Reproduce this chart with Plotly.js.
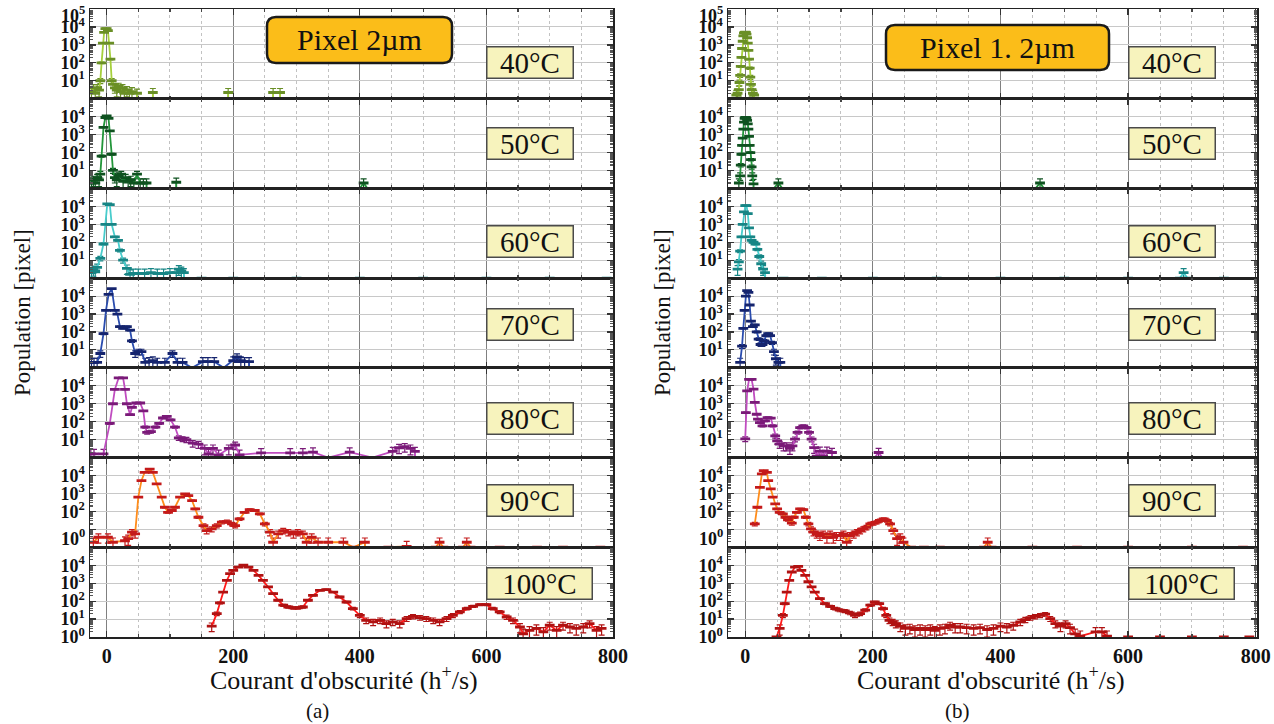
<!DOCTYPE html>
<html><head><meta charset="utf-8">
<script src="https://cdn.plot.ly/plotly-3.0.1.min.js"></script>
<style>html,body{margin:0;padding:0;background:#fff;overflow:hidden}</style>
</head><body><div id="chart" style="width:1274px;height:724px"></div>
<script>
// ---------- labels ----------
const temps = ['40°C','50°C','60°C','70°C','80°C','90°C','100°C'];
const panelTitles = ['Pixel 2µm','Pixel 1. 2µm'];
const captions = ['(a)','(b)'];
const xTitle = "Courant d'obscurité (h<sup>+</sup>/s)";
const yTitle = 'Population [pixel]';
const xTickVals = [0,200,400,600,800];
const xTickText = ['0','200','400','600','800'];

// ---------- data: panel (a) Pixel 2µm  (0 = empty bin) ----------
const a40x = [-24,-21,-18,-15,-12,-10,-8,-6,-4,-2,0,2,4,6,8,10,13,16,19,22,25,28,32,36,40,48,55,73,80,100,110,140,150,192,200,230,240,263,274,285,330,340,400,410,480,490,560,570,650,660,720,730,790];
const a40y = [2.5,4,2,4,3,10,100,1260,5000,8000,8000,6300,1260,160,10,6.3,4,3,5,2.5,4,2,3,2,2.5,2,0,2.2,0,1,0,1,0,2.2,0,1,0,2.2,2.2,0,1,0,1,0,1,0,1,0,1,0,1,0,1];
const a50x = [-24,-21,-18,-15,-12,-10,-8,-5,-2,0,3,5,8,10,13,16,19,23,26,30,34,38,43,48,53,58,63,70,90,100,110,120,150,160,200,210,260,270,320,330,400,406,412,420,460,470,530,540,600,610,680,690,760];
const a50y = [2,3,2,4,3,6.3,63,2500,9000,11000,8000,1600,80,10,4,3,5,6.3,2.5,4,2.5,3,2,6.3,2,2,2,0,1,0,2.2,0,1,0,1,0,1,0,1,0,1,2,1,0,1,0,1,0,1,0,1,0,1];
const a60x = [-24,-21,-18,-15,-10,-5,-2,1,5,8,13,18,21,26,32,37,42,50,60,70,80,90,100,110,114,118,122,130,150,160,200,210,300,310,400,410,500,510,600,610,700,710,790];
const a60y = [2,3,2.5,4,12.6,80,1000,14000,12600,1000,200,126,35,10,3.5,1.6,1.8,1.8,1.8,2,1.8,1.8,2,2,3.2,2.5,2,0,1,0,1,0,1,0,1,0,1,0,1,0,1,0,1];
const a70x = [-24,-20,-15,-10,-5,-1,3,8,13,17,21,26,32,37,40,45,50,55,61,67,73,80,92,104,112,120,135,152,160,170,185,200,206,212,218,225,232,260,270,320,330,400,410,500,510,600,610,700,710,780];
const a70y = [2,2,2,6.3,80,1600,12600,26000,1600,1000,200,160,200,126,32,6.3,8,8,2,2.2,2.5,2,2,6.3,2,2,1,2.2,2.2,2.2,1,2.5,4,2.5,2.2,2.2,0,1,0,1,0,1,0,1,0,1,0,1,0,1];
const a80x = [-25,-20,-5,5,10,13,19,26,29,32,37,40,47,53,58,61,64,70,77,83,89,95,101,108,114,120,126,136,145,155,161,168,177,193,203,210,244,290,310,326,350,384,420,452,462,471,480,487,495,520,530,600,610,700,710,780];
const a80y = [1.6,1.6,1.6,80,1000,6300,28000,28000,6300,1000,250,630,1100,1100,400,50,25,28,50,80,160,200,126,50,12.6,11,10,6.3,5.6,3.2,1.6,3.2,1.4,3.2,5,1.4,1.8,1.8,1.8,2,1,2,1,2.2,3.5,4,3.2,2.2,0,1,0,1,0,1,0,1];
const a90x = [-21,-13,2,10,29,34,40,45,50,55,60,68,73,79,87,92,97,103,108,116,124,129,135,140,145,153,158,166,174,182,190,198,203,210,218,226,234,242,250,258,263,271,279,287,295,302,310,316,324,334,350,374,390,408,420,445,474,490,520,526,532,545,563,569,575,590,621,630,680,690,721,730,780];
const a90y = [1.9,3.6,3.6,1.9,2.3,3,6.9,5.6,620,5200,15000,23000,15000,3400,620,170,89,112,170,620,950,760,400,138,47,16,8.5,10.5,16,25,27,20,16,38,89,126,112,72,20,6.9,1.9,5.6,8.5,6.9,5.6,6.9,5.6,1.9,3.6,1.9,1.9,1.9,1,1.9,0,1,1.1,0,1,1.9,1,0,1,1.9,1,0,1,0,1,0,1,0,1];
const a100x = [166,174,179,184,190,195,200,208,216,224,232,240,247,255,263,271,279,287,295,302,310,318,326,337,347,358,368,379,389,400,410,421,432,442,452,463,474,484,495,505,516,526,537,547,558,569,579,590,600,610,621,632,642,653,658,668,679,690,700,711,721,732,742,753,763,774,782];
const a100y = [4,20,79,320,1450,3400,5200,7900,10000,7900,5200,2750,1450,620,260,112,59,47,42,42,47,112,210,400,440,320,170,89,38,16,8.5,6.9,8.5,5.6,6.9,5.6,10.5,14,12,10.5,8.5,6.9,10.5,16,25,38,51,63,63,38,25,13,8.5,3.6,1.5,2.3,3,1.9,4.5,2.3,4.5,3.6,3,3.6,5.6,2.3,3];

// ---------- data: panel (b) Pixel 1.2µm ----------
const b40x = [-14,-12,-10,-9,-8,-7,-6,-5,-4,-3,-2,-1,0,1,2,3,4,5,6,7,8,9,10,12,14,20,40,50,80,90,120,130,200,210,250,260,300,310,350,360,400,410,450,460,500,510,600,610,700,710,780];
const b40y = [1.6,2,3.2,8,20,63,200,630,1600,3200,4500,5000,5200,5000,4000,2500,1260,500,160,50,16,6.3,3.2,2,1.6,0,1,0,1,0,1,0,1,0,1,0,1,0,1,0,1,0,1,0,1,0,1,0,1,0,1];
const b50x = [-10,-8,-7,-6,-5,-4,-3,-2,-1,0,1,2,3,4,5,6,7,8,9,10,11,13,20,45,52,58,70,100,110,200,210,300,310,400,410,455,462,468,480,600,610,700,710,780];
const b50y = [2,5,20,80,250,630,2000,5000,8000,9000,9000,8000,6300,4000,2000,800,250,100,40,16,5,1.8,0,1,2,1,0,1,0,1,0,1,0,1,0,1,2,1,0,1,0,1,0,1];
const b60x = [-12,-10,-8,-6,-4,-2,0,2,4,6,8,10,13,16,19,22,25,28,31,40,60,70,120,130,200,210,300,310,400,410,500,510,600,610,681,687,693,705,750];
const b60y = [3.2,8,32,200,1000,5000,11000,11000,4000,630,200,126,100,80,40,16,6.3,3.2,2,0,1,0,1,0,1,0,1,0,1,0,1,0,1,0,1,2,1,0,1];
const b70x = [-8,-5,-3,-1,1,3,5,7,9,12,15,18,21,24,27,30,33,36,39,42,45,48,52,55,60,80,90,150,160,250,260,350,360,450,460,550,560,650,660,750];
const b70y = [2,16,160,1600,10000,20000,16000,3200,400,200,250,100,40,20,20,32,63,80,63,25,8,3.2,2,2,0,1,0,1,0,1,0,1,0,1,0,1,0,1,0,1];
const b80x = [0,1,3,6,10,13,15,18,20,23,27,31,35,40,43,47,50,54,60,65,70,74,78,82,86,91,96,100,104,108,112,117,122,128,136,145,160,170,203,209,215,225,260,270,350,360,450,460,550,560,650,660,750];
const b80y = [11,320,5200,23000,23000,6500,1200,260,138,89,59,112,170,158,59,16,8.5,5.6,4.5,4.5,3.3,4.5,10.7,25,47,59,47,25,10.7,3.6,1.2,2.3,1.2,2.3,1.9,0,1,0,1,1.9,1,0,1,0,1,0,1,0,1,0,1,0,1];
const b90x = [15,19,23,26,29,34,36,40,43,47,50,54,59,63,67,73,76,81,86,91,95,99,103,107,112,117,122,128,133,138,143,149,154,159,164,170,175,180,185,190,196,201,206,211,217,222,227,232,238,243,248,260,280,305,320,374,380,386,400,450,460,520,530,600,610,700,710,780];
const b90y = [20,170,2200,12300,19000,15000,5200,1800,620,260,138,89,72,47,34,22,47,89,138,126,47,20,10.5,6.9,5.6,4.5,5.6,3.6,5.6,3.6,4.5,4.5,5.6,1.9,4.5,5.6,6.9,8.5,10.5,13,20,22,25,31,38,31,20,8.5,3,3.6,1.9,1,1,1,0,1,1.9,1,0,1,0,1,0,1,0,1,0,1];
const b100x = [49,54,59,62,65,69,73,78,83,88,94,99,104,109,117,125,133,141,148,156,164,172,180,188,196,203,210,216,221,226,231,236,243,251,258,266,274,282,290,297,305,313,321,329,337,347,358,368,379,389,400,410,420,431,439,447,454,462,470,478,486,494,502,509,517,525,549,559,567,580,600,610,650,660,700,710,750,760,790];
const b100y = [1,3,16,72,320,1450,4200,7900,8700,5200,2750,1200,620,320,138,72,51,38,31,28,22,16,20,31,59,89,72,38,16,8.5,6.9,5.6,4,3,3.3,2.6,3,2.6,3,2.3,3,3.3,4.5,3.6,3.6,3.3,3,3.3,2.6,3,4,3.6,4.5,6.9,9.3,12,14,16,18.6,10.5,5.6,4,5.6,3.3,1.5,1.1,1.9,1.9,1.1,0,1,0,1,0,1,0,1,0,1];

const seriesX = [a40x,a50x,a60x,a70x,a80x,a90x,a100x,b40x,b50x,b60x,b70x,b80x,b90x,b100x];
const seriesY = [a40y,a50y,a60y,a70y,a80y,a90y,a100y,b40y,b50y,b60y,b70y,b80y,b90y,b100y];

// ---------- styles ----------
const lineColors   = ['#a6d03c','#22963a','#48cccc','#2a4cae','#c04cc0','#ff8c1a','#ff1a1a'];
const markerColors = ['#6a8f26','#0f5220','#178585','#15246e','#7a1a78','#c41a1a','#b01212'];

const W = 1274, H = 724;
const top0 = 9, bot0 = 637, rowH = (bot0 - top0) / 7;
const panels = [
  {x0: 90,  x1: 613,  range: [-26.3, 800]},
  {x0: 728, x1: 1257, range: [-27, 802]}
];
const serif = 'Liberation Serif';
const sup = n => '10<sup>' + n + '</sup>';

const minorVals = [];
for (let d = 0; d < 5; d++) for (let m = 2; m <= 9; m++) minorVals.push(m * Math.pow(10, d));

const layout = {
  width: W, height: H,
  margin: {l: 0, r: 0, t: 0, b: 0},
  paper_bgcolor: '#ffffff', plot_bgcolor: '#ffffff',
  showlegend: false,
  annotations: [], shapes: []
};
const traces = [];
const tickFontY = {family: serif, size: 18, color: '#111', weight: 'bold'};

for (let p = 0; p < 2; p++) {
  const P = panels[p];
  for (let r = 0; r < 7; r++) {
    const k = p * 7 + r + 1;
    const sfx = k === 1 ? '' : String(k);
    const top = top0 + r * rowH, bot = top + rowH;
    let tv, tt;
    if (r === 0) { tv = [10,100,1e3,1e4,1e5]; tt = [sup(1),sup(2),sup(3),sup(4),'']; }
    else if (r === 6) { tv = [1,10,100,1e3,1e4]; tt = [sup(0),sup(1),sup(2),sup(3),sup(4)]; }
    else if (r === 5) { tv = [10,100,1e3,1e4]; tt = ['',sup(2),sup(3),sup(4)]; }
    else { tv = [10,100,1e3,1e4]; tt = [sup(1),sup(2),sup(3),sup(4)]; }

    layout['xaxis' + sfx] = {
      domain: [P.x0 / W, P.x1 / W], range: P.range, anchor: 'y' + sfx,
      showline: true, linecolor: '#222', linewidth: 1.5, mirror: 'allticks',
      ticks: 'inside', ticklen: 6, tickwidth: 1.2, tickcolor: '#333',
      tickmode: 'array', tickvals: xTickVals, ticktext: xTickText,
      showticklabels: r === 6, ticklabeloverflow: 'allow',
      tickfont: {family: serif, size: 20, color: '#111', weight: 'bold'},
      showgrid: true, gridcolor: '#808080', gridwidth: 1,
      minor: {tickmode: 'linear', tick0: 0, dtick: 50, ticks: 'inside', ticklen: 3,
              tickcolor: '#444', showgrid: true, gridcolor: '#c2c2c2', griddash: 'dot', gridwidth: 1},
      zeroline: false, fixedrange: true
    };
    layout['yaxis' + sfx] = {
      domain: [1 - bot / H, 1 - top / H], type: 'log', range: [-0.003, 5.003], anchor: 'x' + sfx,
      showline: true, linecolor: '#222', linewidth: 1.5, mirror: 'allticks',
      ticks: 'inside', ticklen: 6, tickwidth: 1.2, tickcolor: '#333',
      tickmode: 'array', tickvals: tv, ticktext: tt, ticklabeloverflow: 'allow',
      tickfont: tickFontY,
      showgrid: true, gridcolor: '#c8c8c8', gridwidth: 1,
      minor: {tickmode: 'array', tickvals: minorVals, ticks: 'inside', ticklen: 3, tickcolor: '#555', showgrid: false},
      zeroline: false, fixedrange: true
    };

    const ys = seriesY[k - 1];
    traces.push({
      type: 'scatter', mode: 'lines+markers',
      x: seriesX[k - 1], y: ys,
      xaxis: 'x' + sfx, yaxis: 'y' + sfx,
      line: {color: lineColors[r], width: 1.8},
      marker: {symbol: 'line-ew', size: 7, color: markerColors[r], line: {width: 2.8, color: markerColors[r]}},
      error_y: {type: 'data', symmetric: true, array: ys.map(v => v > 1 ? Math.sqrt(v) : 0),
                visible: true, color: markerColors[r], thickness: 1.2, width: 3},
      cliponaxis: true, hoverinfo: 'skip'
    });

    // temperature label box
    const wide = temps[r].length > 4;
    const boxCx = p === 0 ? (wide ? 539 : 529.5) : (wide ? 1181.5 : 1171.5);
    const boxCy = [62, 144, 241, 324, 418, 500, 583][r];
    layout.annotations.push({
      xref: 'paper', yref: 'paper', x: boxCx / W, y: 1 - boxCy / H,
      xanchor: 'center', yanchor: 'middle',
      text: temps[r], showarrow: false,
      width: wide ? 104 : 85, height: 30,
      bgcolor: '#f7f3bd', bordercolor: '#4a4a4a', borderwidth: 1.5, borderpad: 0,
      font: {family: serif, size: 29, color: '#111'}
    });

    // labels drawn off their tick: 10^5 just below the top edge, 10^0 in the 90°C row
    if (r === 0) {
      layout.annotations.push({
        xref: 'paper', yref: 'paper', x: (P.x0 - 3) / W, y: 1 - 14 / H,
        xanchor: 'right', yanchor: 'middle', showarrow: false,
        text: sup(5), font: tickFontY
      });
    }
    if (r === 5) {
      layout.annotations.push({
        xref: 'paper', yref: 'paper', x: (P.x0 - 3) / W, y: 1 - 537 / H,
        xanchor: 'right', yanchor: 'middle', showarrow: false,
        text: sup(0), font: tickFontY
      });
    }
  }
}

// panel titles (rounded orange boxes)
function rr(x0, y0, x1, y1, r) {
  const X = v => (v / W).toFixed(5), Y = v => (1 - v / H).toFixed(5);
  return 'M' + X(x0 + r) + ',' + Y(y0) + ' L' + X(x1 - r) + ',' + Y(y0) +
    ' Q' + X(x1) + ',' + Y(y0) + ' ' + X(x1) + ',' + Y(y0 + r) +
    ' L' + X(x1) + ',' + Y(y1 - r) +
    ' Q' + X(x1) + ',' + Y(y1) + ' ' + X(x1 - r) + ',' + Y(y1) +
    ' L' + X(x0 + r) + ',' + Y(y1) +
    ' Q' + X(x0) + ',' + Y(y1) + ' ' + X(x0) + ',' + Y(y1 - r) +
    ' L' + X(x0) + ',' + Y(y0 + r) +
    ' Q' + X(x0) + ',' + Y(y0) + ' ' + X(x0 + r) + ',' + Y(y0) + ' Z';
}
const titleBoxes = [[267, 17, 452, 63], [886, 25, 1109, 70]];
titleBoxes.forEach((b, i) => {
  layout.shapes.push({type: 'path', xref: 'paper', yref: 'paper', path: rr(b[0], b[1], b[2], b[3], 9),
    fillcolor: '#fbbd19', line: {color: '#1a1a1a', width: 2.5}, layer: 'above'});
  layout.annotations.push({xref: 'paper', yref: 'paper', x: (b[0] + b[2]) / 2 / W, y: 1 - (b[1] + b[3]) / 2 / H,
    xanchor: 'center', yanchor: 'middle', showarrow: false, text: panelTitles[i],
    font: {family: serif, size: 30, color: '#111'}});
});

// axis titles & captions
const xTitleCx = [344, 991], yTitleX = [22, 662], capCx = [317, 957];
for (let p = 0; p < 2; p++) {
  layout.annotations.push({xref: 'paper', yref: 'paper', x: xTitleCx[p] / W, y: 1 - 678 / H,
    xanchor: 'center', yanchor: 'middle', showarrow: false, text: xTitle,
    font: {family: serif, size: 26, color: '#111'}});
  layout.annotations.push({xref: 'paper', yref: 'paper', x: yTitleX[p] / W, y: 1 - 313 / H,
    xanchor: 'center', yanchor: 'middle', showarrow: false, text: yTitle, textangle: -90,
    font: {family: serif, size: 23, color: '#111'}});
  layout.annotations.push({xref: 'paper', yref: 'paper', x: capCx[p] / W, y: 1 - 711 / H,
    xanchor: 'center', yanchor: 'middle', showarrow: false, text: captions[p],
    font: {family: serif, size: 21, color: '#111'}});
}

Plotly.newPlot('chart', traces, layout, {staticPlot: true, displayModeBar: false});
</script>
</body></html>
